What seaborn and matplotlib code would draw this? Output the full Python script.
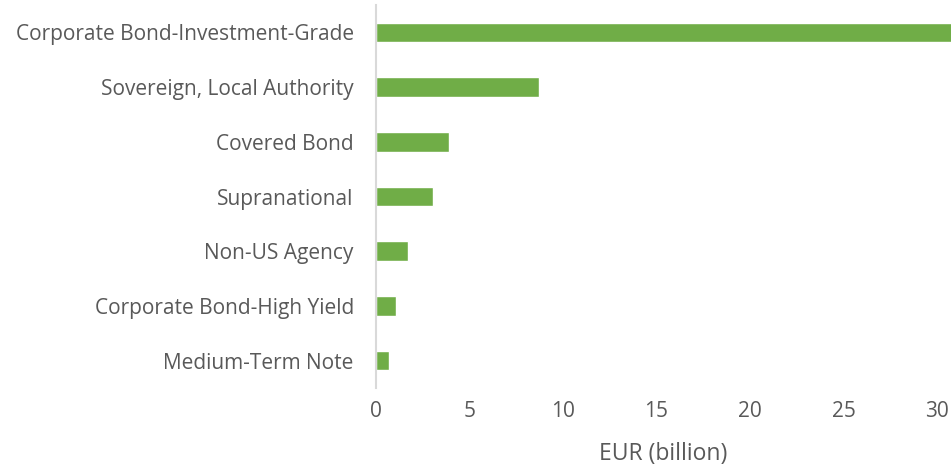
import seaborn as sns
import matplotlib.pyplot as plt
import pandas as pd

# Данные
categories = ['Corporate Bond-Investment-Grade', 'Sovereign, Local Authority', 'Covered Bond',
              'Supranational', 'Non-US Agency', 'Corporate Bond-High Yield', 'Medium-Term Note']
values = [32.0, 8.7, 3.9, 3.05, 1.7, 1.05, 0.7]
x_ticks = [0, 5, 10, 15, 20, 25, 30]

df = pd.DataFrame({'category': categories, 'value': values})

sns.set_style('white')
plt.rcParams['font.family'] = ['Open Sans', 'DejaVu Sans']

fig = plt.figure(figsize=(9.51, 4.69), dpi=100)
ax = fig.add_axes([376 / 951, 1 - 388 / 469, 1 - 376 / 951, 383 / 469])

sns.barplot(data=df, x='value', y='category', color='#70AD47', saturation=1,
            width=0.36, ax=ax, orient='h')

ax.set_xlim(0, 30.75)
ax.set_xticks(x_ticks)
ax.set_ylim(6.5, -0.5)
ax.set_xlabel('EUR (billion)', fontsize=16.5, color='#595959', labelpad=15)
ax.set_ylabel('')
ax.tick_params(axis='y', length=0, pad=16, labelsize=15, labelcolor='#595959')
ax.tick_params(axis='x', length=0, pad=9, labelsize=15, labelcolor='#595959')

for s in ['top', 'right', 'bottom']:
    ax.spines[s].set_visible(False)
ax.spines['left'].set_color('#D9D9D9')
ax.spines['left'].set_linewidth(1.5)

fig.savefig('out.png', dpi=100)
